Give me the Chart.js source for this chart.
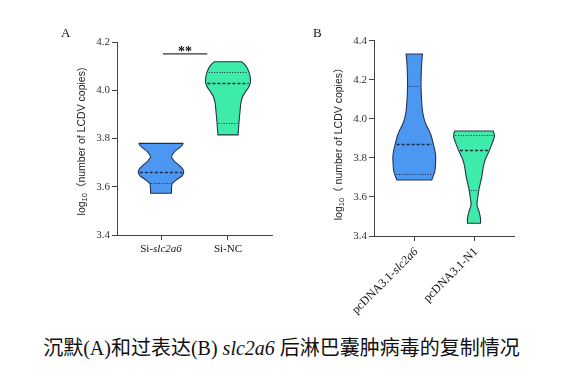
<!DOCTYPE html>
<html>
<head>
<meta charset="utf-8">
<script src="https://cdn.jsdelivr.net/npm/chart.js@4.4.1/dist/chart.umd.min.js"></script>
<style>
  html, body { margin: 0; padding: 0; background: #fff; }
  body { width: 575px; height: 384px; position: relative; overflow: hidden; }
  canvas { position: absolute; top: 0; }
  #chartA { left: 0; }
  #chartB { left: 280px; }
  .panel { position: absolute; font: 13px "Liberation Serif", serif; line-height: 13px; color: #111; }
  #caption { position: absolute; left: 0; width: 563px; top: 336px; text-align: center;
             font: 20px "Liberation Serif", "Noto Sans CJK SC", serif; line-height: 24px; color: #111; }
</style>
</head>
<body>
<canvas id="chartA" width="300" height="270"></canvas>
<canvas id="chartB" width="295" height="330"></canvas>
<div class="panel" style="left:61px;top:26px">A</div>
<div class="panel" style="left:313px;top:26px">B</div>
<div id="caption">沉默(A)和过表达(B) <i>slc2a6</i> 后淋巴囊肿病毒的复制情况</div>
<script>
const catsA = ['Si-slc2a6', 'Si-NC'];
const catsB = ['pcDNA3.1-slc2a6', 'pcDNA3.1-N1'];
const ticksA = [3.4, 3.6, 3.8, 4.0, 4.2];
const ticksB = [3.4, 3.6, 3.8, 4.0, 4.2, 4.4];
const geneName = 'slc2a6';

// violin outlines: log10 copies (top to bottom) and relative density there
const siSlcLevels = [3.780, 3.772, 3.760, 3.745, 3.725, 3.707, 3.690, 3.675, 3.660, 3.645, 3.630, 3.614, 3.600, 3.573];
const siSlcDensity = [0.965, 0.93, 0.79, 0.59, 0.46, 0.57, 0.79, 0.94, 1.0, 0.92, 0.70, 0.50, 0.465, 0.46];
const siSlcQuartiles = [3.614, 3.661, 3.780];

const siNcLevels = [4.118, 4.105, 4.085, 4.060, 4.035, 4.015, 3.995, 3.975, 3.950, 3.920, 3.880, 3.850, 3.815];
const siNcDensity = [0.61, 0.75, 0.88, 0.965, 0.99, 0.92, 0.78, 0.65, 0.57, 0.535, 0.495, 0.47, 0.44];
const siNcQuartiles = [3.866, 4.029, 4.077];

const pcSlcLevels = [4.332, 4.300, 4.250, 4.170, 4.100, 4.040, 4.000, 3.968, 3.940, 3.917, 3.869, 3.815, 3.770, 3.730, 3.687];
const pcSlcDensity = [0.385, 0.357, 0.33, 0.315, 0.34, 0.385, 0.46, 0.56, 0.695, 0.78, 0.90, 1.0, 0.995, 0.96, 0.82];
const pcSlcQuartiles = [3.716, 3.869, 4.168];

const pcN1Levels = [3.938, 3.925, 3.907, 3.880, 3.840, 3.800, 3.764, 3.700, 3.640, 3.600, 3.560, 3.520, 3.490, 3.465];
const pcN1Density = [0.90, 0.94, 0.955, 0.87, 0.73, 0.56, 0.455, 0.36, 0.235, 0.18, 0.14, 0.25, 0.305, 0.305];
const pcN1Quartiles = [3.636, 3.840, 3.917];

// significance bar in A
const sigA = { from: 0.03, to: 0.69, value: 4.151, label: '**' };

const blue = '#4c97f2';
const green = '#3eeba8';
const edge = '#25354d';
const axisColor = '#444';

function densityAt(g, v) {
    for (let k = 0; k < g.levels.length - 1; k++) {
        const a = g.levels[k], b = g.levels[k + 1];
        if (v <= a && v >= b) {
            return g.density[k] + (g.density[k + 1] - g.density[k]) * (a - v) / (a - b);
        }
    }
    return v > g.levels[0] ? g.density[0] : g.density[g.density.length - 1];
}

// catmull-rom through points, current point is p[0]
function smooth(ctx, p) {
    const t = 1 / 6;
    for (let k = 0; k < p.length - 1; k++) {
        const p0 = p[Math.max(k - 1, 0)], p1 = p[k], p2 = p[k + 1], p3 = p[Math.min(k + 2, p.length - 1)];
        ctx.bezierCurveTo(
            p1[0] + (p2[0] - p0[0]) * t, p1[1] + (p2[1] - p0[1]) * t,
            p2[0] - (p3[0] - p1[0]) * t, p2[1] - (p3[1] - p1[1]) * t,
            p2[0], p2[1]);
    }
}

function drawMixed(ctx, parts, x, y, align, size) {
    // parts: [text, italic]
    const fonts = parts.map(p => (p[1] ? 'italic ' : '') + size + 'px "Liberation Serif"');
    const widths = parts.map((p, i) => { ctx.font = fonts[i]; return ctx.measureText(p[0]).width; });
    const total = widths.reduce((a, b) => a + b, 0);
    let cx = align === 'right' ? x - total : x - total / 2;
    ctx.textAlign = 'left';
    parts.forEach((p, i) => {
        ctx.font = fonts[i];
        ctx.fillText(p[0], cx, y);
        cx += widths[i];
    });
}

function splitGene(label) {
    const i = label.indexOf(geneName);
    if (i < 0) return [[label, false]];
    return [[label.slice(0, i), false], [geneName, true]];
}

function violinPlugin(groups, cats, maxHalf, title, rotate, sig) {
    return {
        id: 'violins',
        afterDatasetsDraw(chart) {
            const ctx = chart.ctx, xs = chart.scales.x, ys = chart.scales.y;
            groups.forEach((g, i) => {
                const right = g.levels.map((v, k) => [xs.getPixelForValue(i + g.density[k] * maxHalf), ys.getPixelForValue(v)]);
                const left = g.levels.map((v, k) => [xs.getPixelForValue(i - g.density[k] * maxHalf), ys.getPixelForValue(v)]).reverse();
                ctx.save();
                ctx.beginPath();
                ctx.moveTo(left[left.length - 1][0], left[left.length - 1][1]);
                ctx.lineTo(right[0][0], right[0][1]);
                smooth(ctx, right);
                ctx.lineTo(left[0][0], left[0][1]);
                smooth(ctx, left);
                ctx.closePath();
                ctx.fillStyle = g.color;
                ctx.fill();
                ctx.lineWidth = 1.1;
                ctx.strokeStyle = edge;
                ctx.stroke();

                ctx.strokeStyle = '#1a2844';
                g.quartiles.forEach((q, k) => {
                    const d = densityAt(g, q) * maxHalf;
                    const y = Math.round(ys.getPixelForValue(q)) + 0.5;
                    ctx.beginPath();
                    ctx.setLineDash(k === 1 ? [3, 2] : [1, 1.6]);
                    ctx.lineWidth = k === 1 ? 1.3 : 1;
                    ctx.moveTo(xs.getPixelForValue(i - d) + 1.5, y);
                    ctx.lineTo(xs.getPixelForValue(i + d) - 1.5, y);
                    ctx.stroke();
                });
                ctx.restore();
            });

            if (sig) {
                const y = ys.getPixelForValue(sig.value);
                ctx.save();
                ctx.strokeStyle = '#333';
                ctx.lineWidth = 1.2;
                ctx.beginPath();
                ctx.moveTo(xs.getPixelForValue(sig.from), y);
                ctx.lineTo(xs.getPixelForValue(sig.to), y);
                ctx.stroke();
                ctx.fillStyle = '#111';
                ctx.font = 'bold 14px "Liberation Serif"';
                ctx.textAlign = 'center';
                ctx.textBaseline = 'alphabetic';
                ctx.fillText(sig.label, xs.getPixelForValue((sig.from + sig.to) / 2), y + 2);
                ctx.restore();
            }
        },
        afterDraw(chart) {
            const ctx = chart.ctx, xs = chart.scales.x, area = chart.chartArea;
            ctx.save();
            ctx.fillStyle = '#111';
            ctx.textBaseline = 'middle';
            cats.forEach((c, i) => {
                const px = xs.getPixelForValue(i);
                if (rotate) {
                    ctx.save();
                    ctx.translate(px + 2, area.bottom + 14);
                    ctx.rotate(-Math.PI / 4);
                    drawMixed(ctx, splitGene(c), 0, 0, 'right', 12);
                    ctx.restore();
                } else {
                    drawMixed(ctx, splitGene(c), px, area.bottom + 14, 'center', 11);
                }
            });

            // y title with subscript
            const main = '10.5px "Liberation Sans", "Noto Sans CJK SC"';
            const sub = '7.5px "Liberation Sans"';
            ctx.font = main;
            const w1 = ctx.measureText('log').width, w3 = ctx.measureText(title).width;
            ctx.font = sub;
            const w2 = ctx.measureText('10').width;
            const total = w1 + w2 + w3;
            ctx.translate(area.left - 35, (area.top + area.bottom) / 2 + 3);
            ctx.rotate(-Math.PI / 2);
            ctx.textAlign = 'left';
            ctx.fillStyle = '#222';
            let x = -total / 2;
            ctx.font = main;
            ctx.fillText('log', x, 0);
            x += w1;
            ctx.font = sub;
            ctx.fillText('10', x, 3);
            x += w2;
            ctx.font = main;
            ctx.fillText(title, x, 0);
            ctx.restore();
        }
    };
}

function makeChart(id, cats, yTicks, groups, o) {
    const gridOpts = { drawOnChartArea: false, drawTicks: true, tickLength: 5, color: axisColor, lineWidth: 1 };
    return new Chart(document.getElementById(id), {
        type: 'scatter',
        data: { datasets: [] },
        options: {
            responsive: false,
            animation: false,
            events: [],
            layout: { padding: o.padding },
            plugins: { legend: { display: false }, tooltip: { enabled: false } },
            scales: {
                x: {
                    type: 'linear', min: o.xmin, max: o.xmax,
                    afterBuildTicks: s => { s.ticks = cats.map((c, i) => ({ value: i })); },
                    afterFit: s => { s.height = 20; },
                    ticks: { display: false },
                    grid: gridOpts,
                    border: { color: axisColor, width: 1 }
                },
                y: {
                    type: 'linear', min: yTicks[0], max: yTicks[yTicks.length - 1],
                    afterBuildTicks: s => { s.ticks = yTicks.map(v => ({ value: v })); },
                    afterFit: s => { s.width = 40; },
                    ticks: {
                        font: { family: 'Liberation Serif', size: 11 }, color: '#333', padding: 2,
                        callback: v => v.toFixed(1)
                    },
                    grid: gridOpts,
                    border: { color: axisColor, width: 1 }
                }
            }
        },
        plugins: [violinPlugin(groups, cats, o.maxHalf, o.title, o.rotate, o.sig)]
    });
}

makeChart('chartA', catsA, ticksA, [
    { levels: siSlcLevels, density: siSlcDensity, quartiles: siSlcQuartiles, color: blue },
    { levels: siNcLevels, density: siNcDensity, quartiles: siNcQuartiles, color: green }
], {
    padding: { left: 77, right: 28, top: 42, bottom: 15 },
    xmin: -0.657, xmax: 1.657, maxHalf: 0.34,
    title: '（number of LCDV copies)', rotate: false, sig: sigA
});

makeChart('chartB', catsB, ticksB, [
    { levels: pcSlcLevels, density: pcSlcDensity, quartiles: pcSlcQuartiles, color: blue },
    { levels: pcN1Levels, density: pcN1Density, quartiles: pcN1Quartiles, color: green }
], {
    padding: { left: 54, right: 61, top: 40.7, bottom: 74 },
    xmin: -0.675, xmax: 1.67, maxHalf: 0.357,
    title: '（ number of LCDV copies）', rotate: true, sig: null
});
</script>
</body>
</html>
